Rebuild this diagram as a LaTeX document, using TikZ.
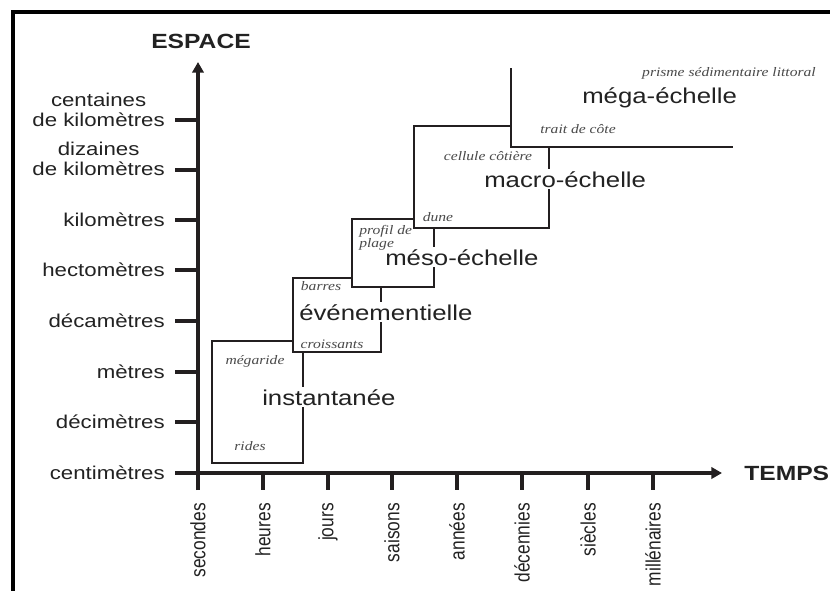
\documentclass[tikz,border=0pt]{standalone}
\usepackage{fontspec}
\usetikzlibrary{arrows.meta}
\setmainfont{Liberation Sans}[FakeStretch=1.2]
\newfontfamily\rotfont{Liberation Sans}
\newfontfamily\itfont{Liberation Serif}[FakeStretch=1.2]
\definecolor{ink}{HTML}{231F20}
\definecolor{txt}{HTML}{222222}
\definecolor{itgray}{HTML}{4A4A4A}
\begin{document}
\begin{tikzpicture}[x=0.75pt,y=-0.75pt,
  ax/.style={line width=2.6pt, draw=ink},
  bx/.style={line width=1.9pt, draw=ink},
  tick/.style={line width=2.6pt, draw=ink},
  ylab/.style={anchor=east, align=center, text=txt, font=\fontsize{13.9}{15}\selectfont, inner sep=0pt},
  xlab/.style={rotate=90, anchor=east, text=txt, font=\rotfont\fontsize{13}{15}\selectfont, inner sep=0pt},
  big/.style={anchor=base west, text=txt, font=\fontsize{16.1}{18}\selectfont, fill=white, inner sep=1.5pt},
  sm/.style={text=itgray, font=\itfont\itshape\fontsize{9.75}{8.5}\selectfont, inner sep=0pt},
  axtitle/.style={text=txt, font=\bfseries\fontsize{15.4}{18}\selectfont, inner sep=0pt}
]
\useasboundingbox (0,0) rectangle (830,590);
\fill[white] (0,0) rectangle (830,590);
% frame
\draw[line width=3pt, draw=black] (13,600) -- (13,12) -- (840,12);

% axes
\coordinate (ybot) at (198,490);
\coordinate (ytop) at (198,62);
\coordinate (xleft) at (175,473);
\coordinate (xend) at (722,473);
\draw[ax, -{Triangle[length=8pt,width=8.5pt]}] (ybot) -- (ytop);
\draw[ax, -{Triangle[length=8pt,width=8.5pt]}] (xleft) -- (xend);

% y ticks and labels
\foreach \yy/\nm/\lab in {473/cm/centimètres, 422/dm/décimètres, 372/m/mètres, 321/dam/décamètres, 270/hm/hectomètres, 220/km/kilomètres}{
  \coordinate (t\nm) at (175,\yy);
  \coordinate (a\nm) at (198,\yy);
  \draw[tick] (t\nm) -- (a\nm);
  \node[ylab] (l\nm) at (165,\yy) {\lab};
}
\coordinate (tdk) at (175,170); \coordinate (adk) at (198,170);
\draw[tick] (tdk) -- (adk);
\node[ylab] (ldk) at (165,159) {dizaines\\de kilomètres};
\coordinate (tck) at (175,120); \coordinate (ack) at (198,120);
\draw[tick] (tck) -- (ack);
\node[ylab] (lck) at (165,110) {centaines\\de kilomètres};

% x ticks and labels
\foreach \xx/\nm/\lab in {198/s/secondes, 263/h/heures, 328/j/jours, 392/sa/saisons, 457/an/années, 522/de/décennies, 588/si/siècles, 653/mi/millénaires}{
  \coordinate (u\nm) at (\xx,473);
  \coordinate (v\nm) at (\xx,490);
  \draw[tick] (u\nm) -- (v\nm);
  \node[xlab] (x\nm) at (\xx,503) {\scalebox{1}[1.2]{\lab}};
}

% axis titles
\node[axtitle, anchor=base] (espace) at (201,48) {ESPACE};
\node[axtitle, anchor=base west] (temps) at (744,480) {TEMPS};

% boxes
\draw[bx] (293,341) -- (212,341) -- (212,463) -- (303,463) -- (303,352);
\draw[bx] (352,278) -- (293,278) -- (293,352) -- (381,352) -- (381,287);
\draw[bx] (414,219) -- (352,219) -- (352,287) -- (434,287) -- (434,228);
\draw[bx] (511,126) -- (414,126) -- (414,228) -- (549,228) -- (549,147);
\draw[bx] (511,68) -- (511,147) -- (733,147);

% big labels
\node[big] (mega) at (580,103) {méga-échelle};
\node[big] (macro) at (482,187) {macro-échelle};
\node[big] (meso) at (383,265) {méso-échelle};
\node[big] (even) at (297,320) {événementielle};
\node[big] (inst) at (260,405) {instantanée};

% small italic labels
\node[sm] (megaride) at (255,361) {mégaride};
\node[sm] (rides) at (250,446) {rides};
\node[sm] (croiss) at (332,344) {croissants};
\node[sm] (barres) at (321,286) {barres};
\node[sm, anchor=north west, align=left] (profil) at (359,225) {profil de\\plage};
\node[sm] (dune) at (438,217) {dune};
\node[sm] (cellule) at (488,156) {cellule côtière};
\node[sm] (trait) at (578,129) {trait de côte};
\node[sm] (prisme) at (729,73) {prisme sédimentaire littoral};
\end{tikzpicture}
\end{document}
